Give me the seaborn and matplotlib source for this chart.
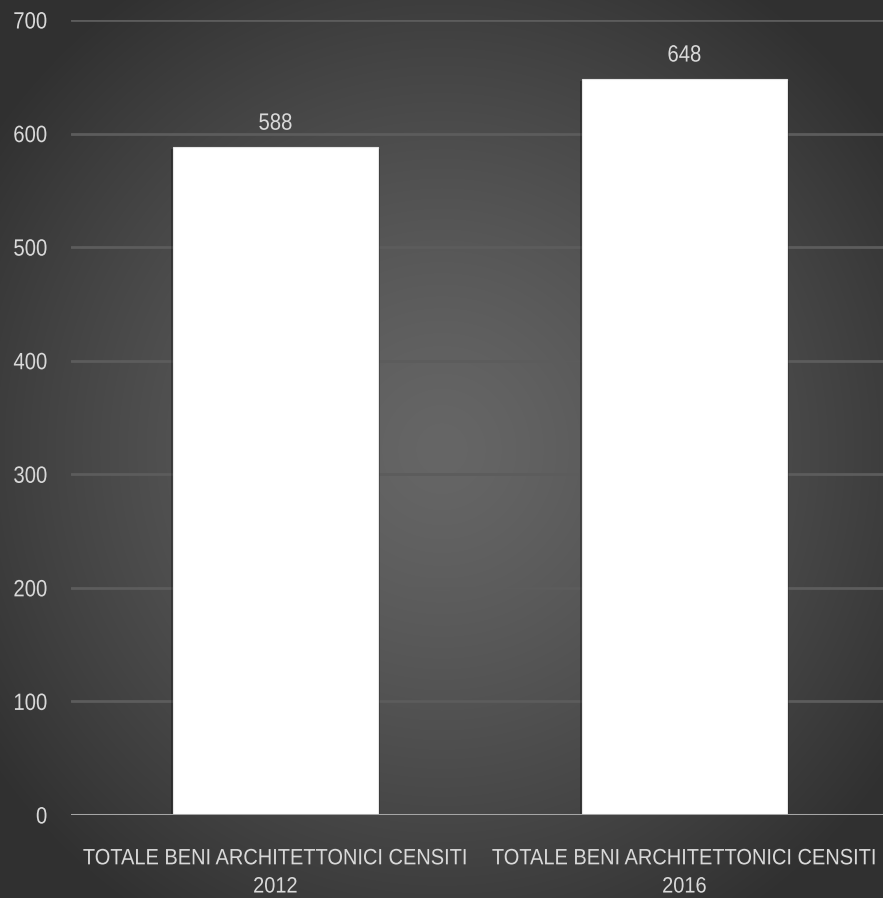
import numpy as np
import pandas as pd
import matplotlib
matplotlib.use("Agg")
import matplotlib.pyplot as plt
import matplotlib.patheffects as pe
from matplotlib.transforms import Affine2D
import seaborn as sns

# data
CATEGORIES = ["TOTALE BENI ARCHITETTONICI CENSITI\n2012",
              "TOTALE BENI ARCHITETTONICI CENSITI\n2016"]
VALUES = [588, 648]
Y_TICKS = [0, 100, 200, 300, 400, 500, 600, 700]

TEXT_COLOR = "#d9d9d9"
GRID_COLOR = "#5c5c5c"


class Squeeze(pe.AbstractPathEffect):
    """Narrow the glyphs horizontally, to mimic a condensed typeface."""
    def __init__(self, sx=0.85, anchor="center"):
        super().__init__()
        self.sx = sx
        self.anchor = anchor

    def draw_path(self, renderer, gc, tpath, affine, rgbFace=None):
        xs = tpath.vertices[:, 0]
        if len(xs):
            cx = xs.max() if self.anchor == "right" else (xs.min() + xs.max()) / 2
        else:
            cx = 0
        sq = Affine2D().translate(-cx, 0).scale(self.sx, 1).translate(cx, 0)
        renderer.draw_path(gc, tpath, sq + affine, rgbFace)


sns.set_theme(style="dark")
plt.rcParams["font.family"] = ["Liberation Sans", "DejaVu Sans"]

W, H = 883, 898
fig = plt.figure(figsize=(W / 100, H / 100), dpi=100)

# radial gradient background
bg = fig.add_axes([0, 0, 1, 1], zorder=-10)
yy, xx = np.mgrid[0:H, 0:W]
r = np.sqrt(((xx - W * 0.5) / (W * 0.62)) ** 2 + ((yy - H * 0.5) / (H * 0.62)) ** 2)
r = np.clip(r, 0, 1)
shade = 0.40 - 0.21 * r ** 1.3
bg.imshow(np.dstack([shade] * 3), aspect="auto", extent=[0, 1, 0, 1])
bg.axis("off")

ax = fig.add_axes([71 / W, 1 - 815 / H, 818 / W, (815 - 20) / H])
ax.set_facecolor("none")

df = pd.DataFrame({"cat": CATEGORIES, "val": VALUES})
sns.barplot(data=df, x="cat", y="val", color="white", width=0.5, ax=ax,
            edgecolor="#e6e6e6", linewidth=0.8, saturation=1, zorder=3)

for p in ax.patches:
    p.set_path_effects([pe.SimplePatchShadow(offset=(-1.5, -1.5), shadow_rgbFace="black", alpha=0.3),
                        pe.SimplePatchShadow(offset=(1.5, -1.5), shadow_rgbFace="black", alpha=0.3),
                        pe.Normal()])

ax.set_ylim(0, 700)
ax.set_xlim(-0.5, 1.5)
ax.set_yticks(Y_TICKS)
ax.grid(axis="y", color=GRID_COLOR, linewidth=2, zorder=0)
ax.grid(axis="x", visible=False)
ax.axhline(0, color="#a6a6a6", linewidth=2.2, zorder=4)
for s in ax.spines.values():
    s.set_visible(False)

ax.set_xlabel("")
ax.set_ylabel("")
ax.tick_params(axis="y", colors=TEXT_COLOR, labelsize=17, length=0, pad=17)
ax.tick_params(axis="x", colors=TEXT_COLOR, labelsize=16, length=0, pad=24)
for lbl in ax.get_yticklabels():
    lbl.set_path_effects([Squeeze(0.86, "right")])
for lbl in ax.get_xticklabels():
    lbl.set_linespacing(1.45)
    lbl.set_path_effects([Squeeze(0.9)])

for p, v in zip(ax.patches, VALUES):
    t = ax.annotate(f"{v}", (p.get_x() + p.get_width() / 2, v), xytext=(0, 9),
                    textcoords="offset points", ha="center", va="bottom",
                    color=TEXT_COLOR, fontsize=17)
    t.set_path_effects([Squeeze(0.86)])

fig.savefig("out.png", dpi=100)
